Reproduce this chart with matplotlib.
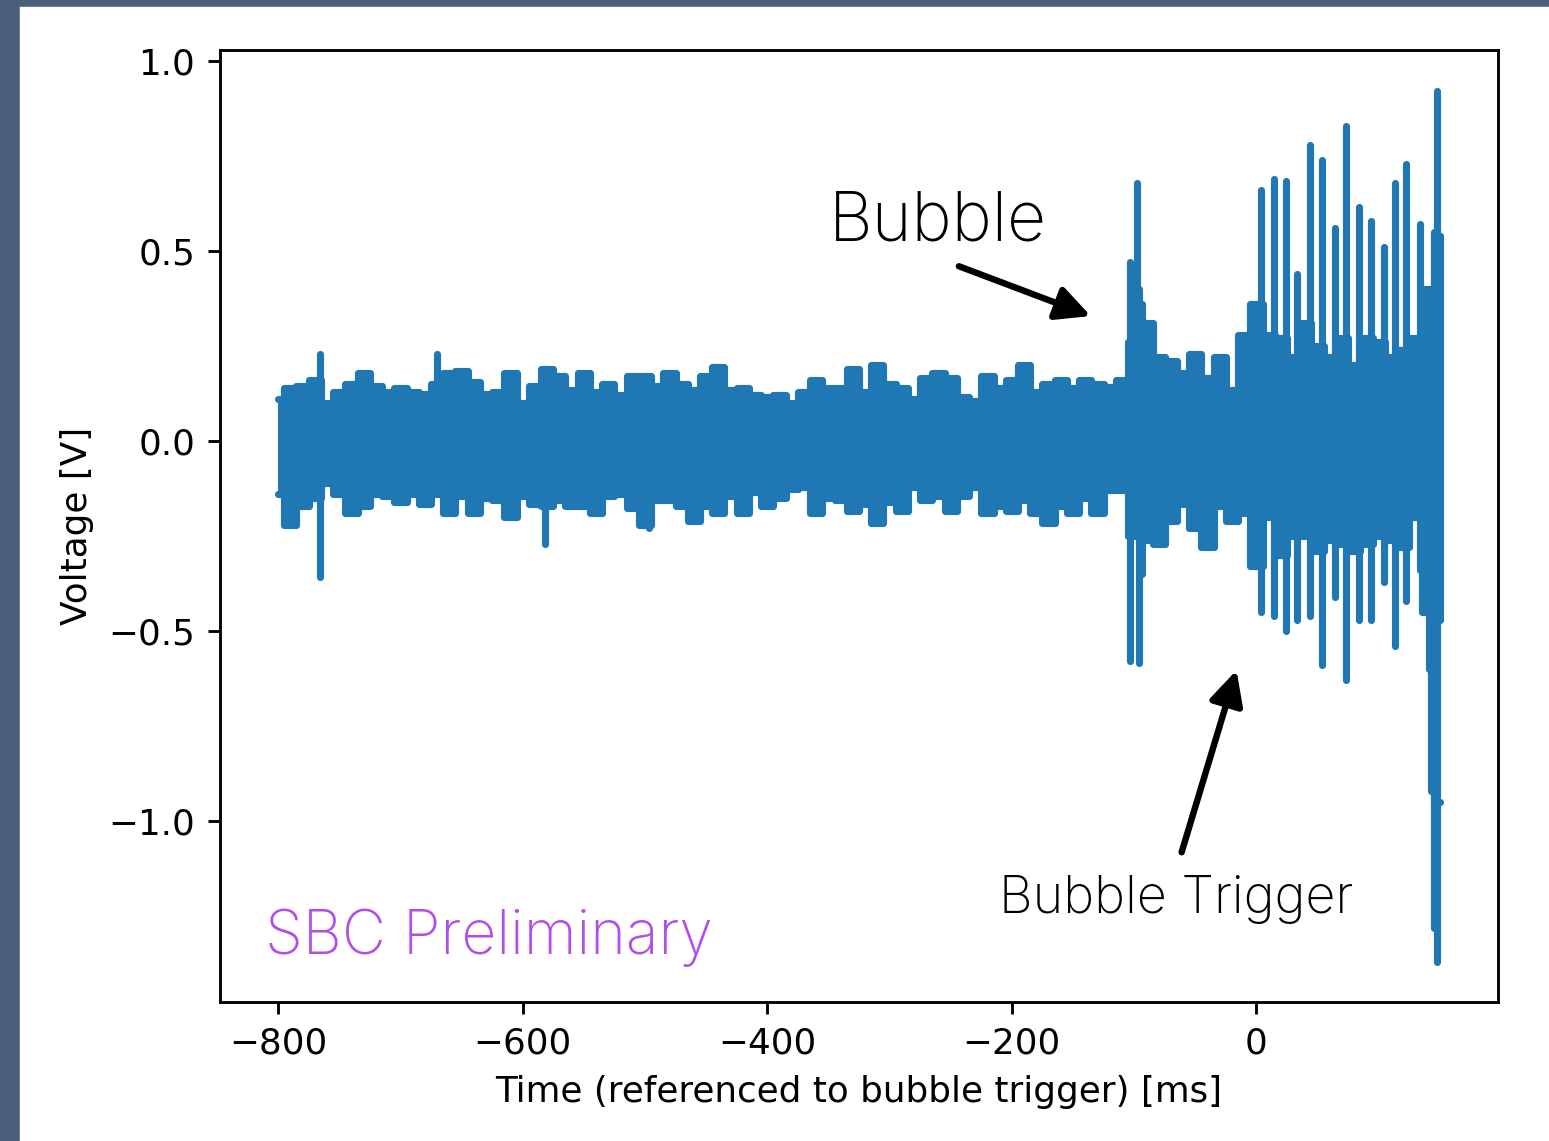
import numpy as np
import matplotlib.pyplot as plt
from matplotlib.patches import Rectangle

# band of the trace, read every 10 ms (upper / lower envelope, V)
band_t = list(range(-800, 151, 10))
band_hi = [0.11, 0.14, 0.145, 0.16, 0.10, 0.13, 0.15, 0.18, 0.145, 0.13,
           0.14, 0.13, 0.125, 0.15, 0.18, 0.185, 0.155, 0.125, 0.13, 0.18,
           0.10, 0.145, 0.19, 0.17, 0.135, 0.18, 0.13, 0.15, 0.12, 0.17,
           0.17, 0.145, 0.18, 0.15, 0.135, 0.17, 0.195, 0.135, 0.14, 0.12,
           0.115, 0.12, 0.10, 0.13, 0.16, 0.14, 0.14, 0.19, 0.13, 0.20,
           0.15, 0.14, 0.11, 0.165, 0.18, 0.165, 0.115, 0.105, 0.17, 0.14,
           0.16, 0.20, 0.13, 0.15, 0.16, 0.14, 0.16, 0.15, 0.143, 0.16,
           0.26, 0.31, 0.22, 0.21, 0.18, 0.23, 0.165, 0.22, 0.134, 0.28,
           0.36, 0.28, 0.27, 0.22, 0.31, 0.25, 0.22, 0.27, 0.20, 0.27,
           0.26, 0.22, 0.24, 0.27, 0.40, 0.54]
band_lo = [-0.14, -0.22, -0.17, -0.15, -0.11, -0.14, -0.19, -0.17, -0.14, -0.145,
           -0.16, -0.14, -0.165, -0.14, -0.19, -0.145, -0.19, -0.15, -0.155, -0.20,
           -0.145, -0.165, -0.17, -0.155, -0.17, -0.17, -0.19, -0.145, -0.14, -0.175,
           -0.22, -0.155, -0.155, -0.17, -0.21, -0.17, -0.19, -0.145, -0.19, -0.135,
           -0.17, -0.15, -0.125, -0.12, -0.19, -0.15, -0.155, -0.185, -0.165, -0.215,
           -0.16, -0.185, -0.12, -0.155, -0.145, -0.185, -0.145, -0.12, -0.19, -0.17,
           -0.185, -0.155, -0.19, -0.215, -0.17, -0.19, -0.15, -0.19, -0.13, -0.13,
           -0.25, -0.26, -0.27, -0.21, -0.165, -0.23, -0.28, -0.17, -0.21, -0.19,
           -0.33, -0.20, -0.30, -0.25, -0.25, -0.29, -0.26, -0.27, -0.29, -0.27,
           -0.25, -0.26, -0.28, -0.20, -0.45, -0.95]

# narrow spikes (time ms, min V, max V)
spike_t = [-766, -728, -670, -607, -582, -548, -497, -103, -97.7, -96, -93.5,
           3.8, 14, 24, 33.5, 44, 53.5, 64, 73.5, 83.5, 94, 104, 113.5,
           122.5, 134, 141, 143, 145, 147.5, 150]
spike_lo = [-0.357, -0.17, -0.14, -0.2, -0.27, -0.17, -0.23, -0.58, -0.2, -0.585, -0.35,
            -0.45, -0.46, -0.50, -0.47, -0.46, -0.59, -0.41, -0.63, -0.47, -0.47, -0.37, -0.54,
            -0.42, -0.34, -0.6, -0.92, -1.28, -1.37, -0.47]
spike_hi = [0.23, 0.18, 0.23, 0.18, 0.19, 0.18, 0.17, 0.47, 0.68, 0.40, 0.36,
            0.66, 0.69, 0.685, 0.44, 0.78, 0.74, 0.56, 0.83, 0.615, 0.58, 0.51, 0.68,
            0.73, 0.57, 0.3, 0.35, 0.55, 0.92, 0.54]

C0 = '#1f77b4'
DPI = 257
LW = 2.0
ann_font = ['Inter', 'Lato', 'DejaVu Sans']

fig = plt.figure(figsize=(1549 / DPI, 1141 / DPI), dpi=DPI)
fig.patches.append(Rectangle((0, 0), 18 / 1549, 1, transform=fig.transFigure,
                             color='#4a5f79', zorder=0))
fig.patches.append(Rectangle((0, 1 - 5 / 1141), 1, 5 / 1141, transform=fig.transFigure,
                             color='#4a5f79', zorder=0))

ax = fig.add_axes([220 / 1549, 1 - 1002 / 1141, 1278 / 1549, 952 / 1141])

ax.fill_between(band_t, band_lo, band_hi, step='mid', color=C0, lw=0)
ax.step(band_t, band_hi, where='mid', color=C0, lw=LW,
        solid_joinstyle='round', solid_capstyle='round')
ax.step(band_t, band_lo, where='mid', color=C0, lw=LW,
        solid_joinstyle='round', solid_capstyle='round')
ax.vlines(spike_t, spike_lo, spike_hi, colors=C0, lw=LW, capstyle='round')

ax.set_xlim(-847.5, 197.5)
ax.set_ylim(-1.476, 1.029)
ax.set_xlabel('Time (referenced to bubble trigger) [ms]')
ax.set_ylabel('Voltage [V]')

arrow = dict(arrowstyle='-|>,head_length=0.8,head_width=0.4', color='black', lw=1.8,
             shrinkA=0, shrinkB=0)
ax.annotate('', xy=(-135.5, 0.329), xytext=(-243.3, 0.46), arrowprops=arrow)
ax.annotate('', xy=(-16.3, -0.603), xytext=(-61.2, -1.082), arrowprops=arrow)

ax.text(-349.4, 0.529, 'Bubble', fontsize=19, family=ann_font, weight='light',
        va='baseline', ha='left')
ax.text(-210.6, -1.242, 'Bubble Trigger', fontsize=14.6, family=ann_font, weight='light',
        va='baseline', ha='left')
ax.text(-810.6, -1.35, 'SBC Preliminary', fontsize=17, family=ann_font, weight='light',
        color='#b24ee8', va='baseline', ha='left')

plt.savefig('out.png', dpi=DPI)
